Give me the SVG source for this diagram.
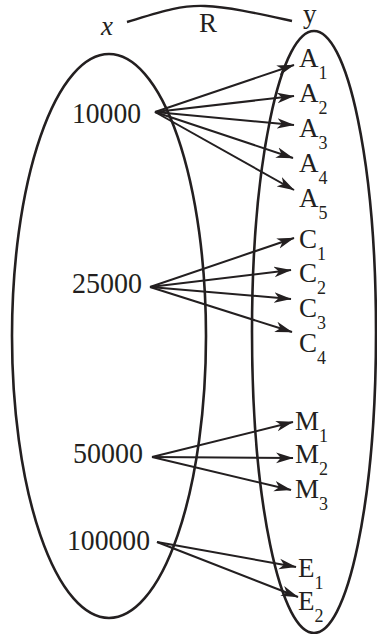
<svg xmlns="http://www.w3.org/2000/svg" width="377" height="634" viewBox="0 0 377 634">
<style>
.e{fill:none;stroke:#231f20;stroke-width:2.6}
.c line{stroke:#231f20;stroke-width:2;marker-end:url(#ah)}
text{font-family:"Liberation Serif","Times New Roman",serif;fill:#231f20;font-size:27px}
.n{font-size:30px}
.s{font-size:18px}
</style>
<defs>
<marker id="ah" markerUnits="userSpaceOnUse" markerWidth="18" markerHeight="12" refX="16" refY="5" orient="auto" viewBox="0 0 17 10">
<path d="M0,0 L16.5,5 L0,10 L4.5,5 Z" fill="#231f20"/>
</marker>
</defs>
<g id="setX"><ellipse class="e" cx="109" cy="336" rx="97" ry="282"/></g>
<g id="setY"><ellipse class="e" cx="314" cy="332" rx="62" ry="301"/></g>
<g id="relation">
<path d="M127,22 C160,12 180,5 205,6 C230,7 260,14 292,21" fill="none" stroke="#231f20" stroke-width="2.4"/>
<text x="101" y="35" font-style="italic">x</text>
<text x="199" y="32" font-size="26">R</text>
<text x="303" y="23">y</text>
</g>
<g id="n10000"><text class="n" x="72" y="123" textLength="69" lengthAdjust="spacingAndGlyphs">10000</text></g>
<g id="n25000"><text class="n" x="72" y="293" textLength="70" lengthAdjust="spacingAndGlyphs">25000</text></g>
<g id="n50000"><text class="n" x="73" y="463" textLength="70" lengthAdjust="spacingAndGlyphs">50000</text></g>
<g id="n100000"><text class="n" x="67" y="550" textLength="83" lengthAdjust="spacingAndGlyphs">100000</text></g>
<g id="A1"><text x="299" y="67">A<tspan class="s" dy="12">1</tspan></text></g>
<g id="A2"><text x="299" y="102">A<tspan class="s" dy="12">2</tspan></text></g>
<g id="A3"><text x="299" y="137">A<tspan class="s" dy="12">3</tspan></text></g>
<g id="A4"><text x="299" y="172">A<tspan class="s" dy="12">4</tspan></text></g>
<g id="A5"><text x="299" y="207">A<tspan class="s" dy="12">5</tspan></text></g>
<g id="C1"><text x="299" y="248">C<tspan class="s" dy="12">1</tspan></text></g>
<g id="C2"><text x="299" y="282">C<tspan class="s" dy="12">2</tspan></text></g>
<g id="C3"><text x="299" y="317">C<tspan class="s" dy="12">3</tspan></text></g>
<g id="C4"><text x="299" y="352">C<tspan class="s" dy="12">4</tspan></text></g>
<g id="M1"><text x="295" y="430">M<tspan class="s" dy="12">1</tspan></text></g>
<g id="M2"><text x="295" y="463">M<tspan class="s" dy="12">2</tspan></text></g>
<g id="M3"><text x="295" y="498">M<tspan class="s" dy="12">3</tspan></text></g>
<g id="E1"><text x="298" y="577">E<tspan class="s" dy="12">1</tspan></text></g>
<g id="E2"><text x="298" y="610">E<tspan class="s" dy="12">2</tspan></text></g>
<g id="connectors" class="c">
<line x1="155" y1="112" x2="294" y2="65"/>
<line x1="155" y1="112" x2="294" y2="96"/>
<line x1="155" y1="112" x2="294" y2="125"/>
<line x1="155" y1="112" x2="293" y2="158"/>
<line x1="155" y1="112" x2="294" y2="190"/>
<line x1="150" y1="287" x2="294" y2="238"/>
<line x1="150" y1="287" x2="291" y2="270"/>
<line x1="150" y1="287" x2="291" y2="299"/>
<line x1="150" y1="287" x2="292" y2="332"/>
<line x1="152" y1="457" x2="293" y2="422"/>
<line x1="152" y1="457" x2="293" y2="458"/>
<line x1="152" y1="457" x2="291" y2="490"/>
<line x1="157" y1="542" x2="296" y2="567"/>
<line x1="157" y1="542" x2="298" y2="597"/>
</g>
</svg>
